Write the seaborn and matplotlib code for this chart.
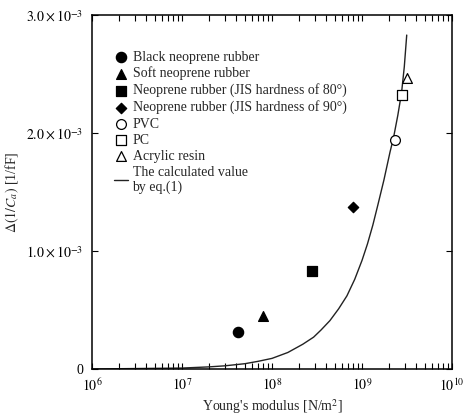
import numpy as np
import pandas as pd
import matplotlib
matplotlib.use("Agg")
import matplotlib.pyplot as plt
import seaborn as sns

# ---- data ----
series_labels = ["Black neoprene rubber", "Soft neoprene rubber",
                 "Neoprene rubber (JIS hardness of 80°)",
                 "Neoprene rubber (JIS hardness of 90°)",
                 "PVC", "PC", "Acrylic resin"]
series_E = [4.2e7, 8.0e7, 2.8e8, 7.9e8, 2.3e9, 2.8e9, 3.2e9]
series_dC = [0.31e-3, 0.45e-3, 0.83e-3, 1.37e-3, 1.94e-3, 2.32e-3, 2.47e-3]

curve_E = [1e6, 1e7, 2e7, 3e7, 5e7, 7e7, 1e8, 1.5e8, 2.2e8, 2.9e8, 3.5e8,
           4.4e8, 5.5e8, 6.8e8, 8.3e8, 1.0e9, 1.15e9, 1.32e9, 1.5e9, 1.75e9,
           2.05e9, 2.24e9, 2.5e9, 2.75e9, 2.95e9, 3.14e9]
curve_dC = [0.0, 0.008e-3, 0.018e-3, 0.027e-3, 0.045e-3, 0.065e-3, 0.09e-3,
            0.14e-3, 0.21e-3, 0.27e-3, 0.33e-3, 0.41e-3, 0.51e-3, 0.62e-3,
            0.76e-3, 0.92e-3, 1.06e-3, 1.22e-3, 1.39e-3, 1.60e-3, 1.84e-3,
            1.96e-3, 2.15e-3, 2.34e-3, 2.56e-3, 2.83e-3]
curve_label = "The calculated value\nby eq.(1)"

x_ticks = [1e6, 1e7, 1e8, 1e9, 1e10]
x_ticklabels = [r"$10^{6}$", r"$10^{7}$", r"$10^{8}$", r"$10^{9}$", r"$10^{10}$"]
y_ticks = [0, 1e-3, 2e-3, 3e-3]
y_ticklabels = ["0", r"$1.0\times10^{-3}$", r"$2.0\times10^{-3}$", r"$3.0\times10^{-3}$"]

# ---- styles ----
markers = ["o", "^", "s", "D", "o", "s", "^"]
filled = [True, True, True, True, False, False, False]
msizes = [55, 50, 50, 28, 50, 50, 50]

sns.set_theme(style="ticks")
plt.rcParams["font.family"] = ["Liberation Serif", "DejaVu Serif"]
plt.rcParams["mathtext.fontset"] = "stix"

fig = plt.figure(figsize=(4.7, 4.15), dpi=100)
ax = fig.add_axes([92/470, 1-369/415, 360/470, 354/415])

for lab, e, d, m, f, s in zip(series_labels, series_E, series_dC, markers, filled, msizes):
    df = pd.DataFrame({"E": [e], "d": [d]})
    sns.scatterplot(data=df, x="E", y="d", ax=ax, marker=m, s=s,
                    color="black" if f else "white", edgecolor="black",
                    linewidth=0.9, label=lab, zorder=3)

cdf = pd.DataFrame({"E": curve_E, "d": curve_dC})
sns.lineplot(data=cdf, x="E", y="d", ax=ax, color="#222222", lw=1.0,
             label=curve_label, sort=False)

ax.set_xscale("log")
ax.set_xlim(1e6, 1e10)
ax.set_ylim(0, 3e-3)
ax.set_xticks(x_ticks)
ax.set_xticklabels(x_ticklabels)
ax.set_yticks(y_ticks)
ax.set_yticklabels(y_ticklabels)

ax.tick_params(axis="both", which="both", direction="in", top=True, right=True,
               labelsize=10, colors="black", pad=6)
ax.tick_params(axis="both", which="major", length=4, width=0.8)
ax.tick_params(axis="x", which="minor", length=4, width=0.8)
for sp in ax.spines.values():
    sp.set_color("black")
    sp.set_linewidth(1.1)

ax.set_xlabel("Young's modulus [N/m$^{2}$]", fontsize=10, labelpad=2)
ax.set_ylabel(r"$\Delta(1/C_{a})$ [1/fF]", fontsize=10, labelpad=4)

leg = ax.legend(loc="upper left", bbox_to_anchor=(0.045, 0.915), frameon=False,
                fontsize=10, handlelength=1.0, handletextpad=0.35,
                labelspacing=0.22, borderaxespad=0)

fig.savefig("out.png", dpi=100)
